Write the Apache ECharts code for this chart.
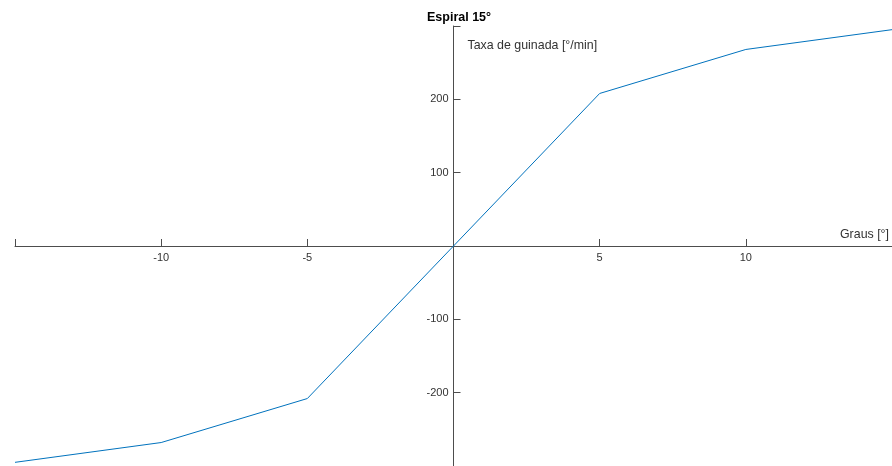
<!DOCTYPE html>
<html>
<head>
<meta charset="utf-8">
<script src="https://cdn.jsdelivr.net/npm/echarts@6/dist/echarts.min.js"></script>
<style>html,body{margin:0;padding:0;background:#fff}#c{width:892px;height:466px}</style>
</head>
<body>
<div id="c"></div>
<script>
const xValues = [-15, -10, -5, 0, 5, 10, 15];
const yValues = [-295, -268, -208, 0, 208, 268, 295];
const titleText = 'Espiral 15°';
const xName = 'Graus [°]';
const yName = 'Taxa de guinada [°/min]';

const W = 892, H = 466;
const gridLeft = 15, gridRight = 0, gridTop = 26, gridBottom = 0;
const gw = W - gridLeft - gridRight, gh = H - gridTop - gridBottom;

const chart = echarts.init(document.getElementById('c'));
const axisColor = '#4d4d4d';
const font = 'Liberation Sans, Arial, sans-serif';
chart.setOption({
  animation: false,
  title: {
    text: titleText, left: 422, top: 6,
    textStyle: {fontFamily: font, fontSize: 12.5, fontWeight: 'bold', color: '#000'}
  },
  grid: {left: gridLeft, right: gridRight, top: gridTop, bottom: gridBottom, containLabel: false, outerBoundsMode: 'none'},
  xAxis: {
    type: 'value', min: -15, max: 15, interval: 5,
    position: 'bottom', offset: -gh / 2,
    axisLine: {onZero: false, lineStyle: {color: axisColor, width: 1}},
    axisTick: {inside: true, length: 7, lineStyle: {color: axisColor}},
    splitLine: {show: false},
    axisLabel: {
      fontFamily: font, fontSize: 11, color: '#333', margin: 6,
      formatter: v => (v === 0 || Math.abs(v) === 15) ? '' : String(v)
    },
    name: xName, nameLocation: 'end', nameGap: -3,
    nameTextStyle: {fontFamily: font, fontSize: 12.4, color: '#333', align: 'right', verticalAlign: 'bottom', padding: [0, 0, 5, 0]}
  },
  yAxis: {
    type: 'value', min: -300, max: 300, interval: 100,
    position: 'left', offset: -gw / 2,
    axisLine: {onZero: false, lineStyle: {color: axisColor, width: 1}},
    axisTick: {inside: true, length: 7, lineStyle: {color: axisColor}},
    splitLine: {show: false},
    axisLabel: {
      fontFamily: font, fontSize: 11, color: '#333', margin: 5,
      formatter: v => (v === 0 || Math.abs(v) === 300) ? '' : String(v)
    },
    name: yName, nameLocation: 'end', nameGap: -20,
    nameTextStyle: {fontFamily: font, fontSize: 12.4, color: '#333', align: 'left', verticalAlign: 'middle', padding: [0, 0, 0, 14]}
  },
  series: [{
    type: 'line',
    data: xValues.map((x, i) => [x, yValues[i]]),
    showSymbol: false, symbol: 'none',
    lineStyle: {color: '#0072BD', width: 1}
  }]
});
</script>
</body>
</html>
